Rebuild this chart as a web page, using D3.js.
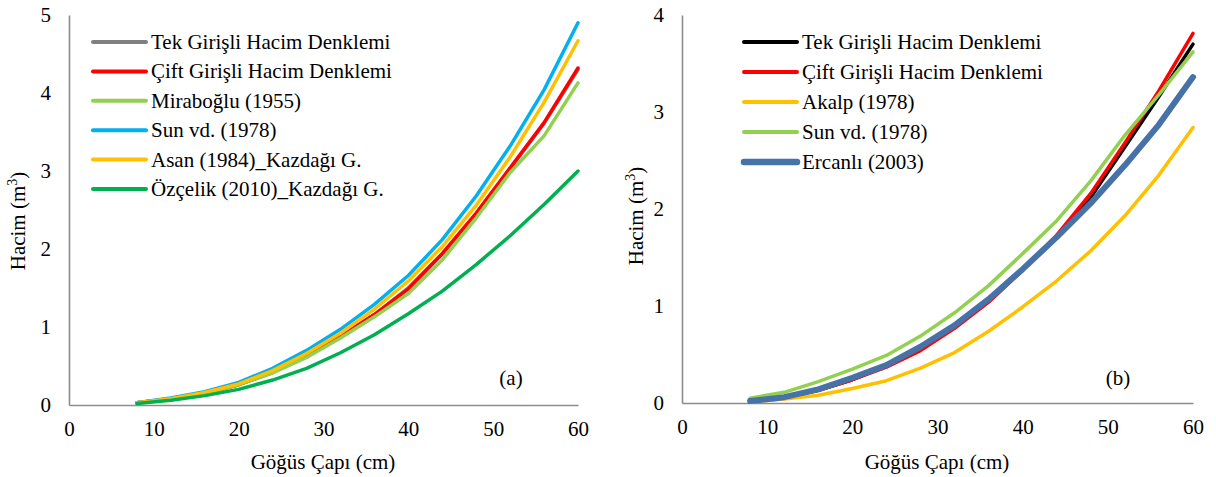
<!DOCTYPE html>
<html>
<head>
<meta charset="utf-8">
<script src="https://cdn.jsdelivr.net/npm/d3@7"></script>
<style>
	body { margin: 0; background: #fff; }
</style>
</head>
<body>
<svg id="chart" width="1216" height="477"></svg>
<script>
// diameters (cm)
var diameters = [8, 12, 16, 20, 24, 28, 32, 36, 40, 44, 48, 52, 56, 60];

// panel (a)
var aTek     = [0.03, 0.08, 0.15, 0.26, 0.42, 0.62, 0.88, 1.16, 1.50, 1.94, 2.45, 3.03, 3.61, 4.30];
var aCift    = [0.03, 0.08, 0.15, 0.26, 0.42, 0.62, 0.88, 1.16, 1.49, 1.94, 2.46, 3.04, 3.62, 4.32];
var aMirab   = [0.03, 0.08, 0.15, 0.26, 0.41, 0.61, 0.86, 1.13, 1.43, 1.86, 2.40, 2.98, 3.45, 4.13];
var aSun     = [0.03, 0.09, 0.17, 0.29, 0.47, 0.70, 0.97, 1.29, 1.66, 2.12, 2.68, 3.32, 4.04, 4.90];
var aAsan    = [0.03, 0.08, 0.16, 0.27, 0.44, 0.66, 0.92, 1.23, 1.59, 2.03, 2.56, 3.18, 3.88, 4.67];
var aOzcelik = [0.02, 0.06, 0.12, 0.20, 0.32, 0.47, 0.67, 0.90, 1.17, 1.46, 1.80, 2.17, 2.57, 3.00];

// panel (b)
var bTek     = [0.02, 0.06, 0.13, 0.24, 0.38, 0.56, 0.78, 1.06, 1.37, 1.72, 2.12, 2.64, 3.16, 3.70];
var bCift    = [0.02, 0.05, 0.13, 0.24, 0.37, 0.54, 0.77, 1.04, 1.37, 1.73, 2.16, 2.68, 3.22, 3.81];
var bAkalp   = [0.01, 0.04, 0.08, 0.15, 0.23, 0.36, 0.52, 0.74, 0.99, 1.26, 1.57, 1.93, 2.35, 2.84];
var bSun     = [0.05, 0.11, 0.22, 0.35, 0.49, 0.69, 0.93, 1.21, 1.54, 1.88, 2.29, 2.76, 3.18, 3.62];
var bErcanli = [0.02, 0.06, 0.14, 0.26, 0.39, 0.58, 0.80, 1.07, 1.38, 1.71, 2.06, 2.45, 2.87, 3.36];

var xTicks = [0, 10, 20, 30, 40, 50, 60];
var aYTicks = [0, 1, 2, 3, 4, 5];
var bYTicks = [0, 1, 2, 3, 4];

var FONT = "Liberation Serif";
var svg = d3.select("#chart");

function drawPanel(opt) {
	var g = svg.append("g");
	var x = d3.scaleLinear().domain([0, 60]).range([opt.left, opt.right]);
	var y = d3.scaleLinear().domain([0, opt.yMax]).range([opt.bottom, opt.top]);

	//axes: plain gray line, no tick marks
	var xa = g.append("g")
		.attr("transform", "translate(0," + opt.bottom + ")")
		.call(d3.axisBottom(x).tickValues(xTicks).tickFormat(d3.format("d")).tickSize(0).tickPadding(16));
	var ya = g.append("g")
		.attr("transform", "translate(" + opt.left + ",0)")
		.call(d3.axisLeft(y).tickValues(opt.yTicks).tickFormat(d3.format("d")).tickSize(0).tickPadding(18));
	[xa, ya].forEach(a=>{
		a.attr("font-family", null).attr("font-size", null);
		a.select(".domain").attr("stroke", "#8c8c8c").attr("stroke-width", 1.6);
		a.selectAll("text")
		 .attr("fill", "#000")
		 .style("font-family", FONT)
		 .style("font-size", "21px");
	});

	var line = d3.line()
		.x((d, i)=>x(diameters[i]))
		.y(d=>y(d));

	g.selectAll(".series")
	 .data(opt.series)
	 .enter()
	 .append("path")
	 .attr("d", d=>line(d.values))
	 .attr("fill", "none")
	 .attr("stroke", d=>d.color)
	 .attr("stroke-width", d=>d.width)
	 .attr("stroke-linejoin", "round")
	 .attr("stroke-linecap", "round");

	//legend
	var leg = g.selectAll(".leg")
		.data(opt.series)
		.enter()
		.append("g")
		.attr("transform", (d, i)=>"translate(" + opt.legX + "," + (opt.legY + i * opt.legStep) + ")");
	leg.append("line")
	   .attr("x1", 0).attr("x2", 53)
	   .attr("stroke", d=>d.color)
	   .attr("stroke-width", d=>d.width + 0.5)
	   .attr("stroke-linecap", "round");
	leg.append("text")
	   .attr("x", 58)
	   .attr("dy", "0.33em")
	   .style("font-family", FONT)
	   .style("font-size", "21px")
	   .text(d=>d.name);

	//axis titles
	g.append("text")
	 .attr("x", opt.xTitleX)
	 .attr("y", 469)
	 .attr("text-anchor", "middle")
	 .style("font-family", FONT)
	 .style("font-size", "21px")
	 .text("Göğüs Çapı (cm)");
	var yt = g.append("text")
	 .attr("transform", "translate(" + opt.yTitleX + "," + opt.yTitleY + ") rotate(-90)")
	 .attr("text-anchor", "middle")
	 .style("font-family", FONT)
	 .style("font-size", "21px");
	yt.append("tspan").text("Hacim (m");
	yt.append("tspan").attr("dy", -8).style("font-size", "14px").text("3");
	yt.append("tspan").attr("dy", 8).text(")");

	g.append("text")
	 .attr("x", opt.tagX)
	 .attr("y", 385)
	 .attr("text-anchor", "middle")
	 .style("font-family", FONT)
	 .style("font-size", "21px")
	 .text(opt.tag);
}

drawPanel({
	left: 69, right: 578, top: 15, bottom: 405, yMax: 5, yTicks: aYTicks,
	legX: 93, legY: 42, legStep: 29.4, xTitleX: 323, yTitleX: 25, yTitleY: 221, tagX: 511, tag: "(a)",
	series: [
		{name: "Tek Girişli Hacim Denklemi", values: aTek, color: "#808080", width: 3.5},
		{name: "Çift Girişli Hacim Denklemi", values: aCift, color: "#ff0000", width: 3.5},
		{name: "Mirabo\u011flu (1955)", values: aMirab, color: "#92d050", width: 3.5},
		{name: "Sun vd. (1978)", values: aSun, color: "#00b0f0", width: 3.5},
		{name: "Asan (1984)_Kazda\u011f\u0131 G.", values: aAsan, color: "#ffc000", width: 3.5},
		{name: "Özçelik (2010)_Kazda\u011f\u0131 G.", values: aOzcelik, color: "#00b050", width: 3.5}
	]
});

drawPanel({
	left: 682, right: 1193, top: 15, bottom: 403, yMax: 4, yTicks: bYTicks,
	legX: 744, legY: 42, legStep: 30, xTitleX: 937, yTitleX: 643, yTitleY: 216, tagX: 1118, tag: "(b)",
	series: [
		{name: "Tek Girişli Hacim Denklemi", values: bTek, color: "#000000", width: 3.5},
		{name: "Çift Girişli Hacim Denklemi", values: bCift, color: "#ff0000", width: 3.5},
		{name: "Akalp (1978)", values: bAkalp, color: "#ffc000", width: 3.5},
		{name: "Sun vd. (1978)", values: bSun, color: "#92d050", width: 3.5},
		{name: "Ercanl\u0131 (2003)", values: bErcanli, color: "#4672a8", width: 6}
	]
});
</script>
</body>
</html>
